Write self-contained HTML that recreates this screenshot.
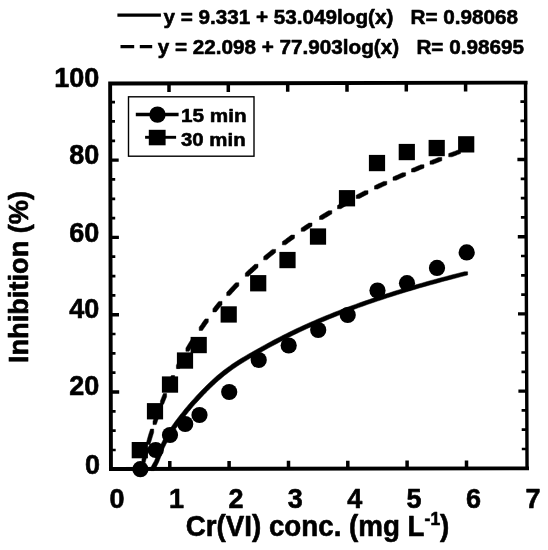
<!DOCTYPE html>
<html lang="en"><head><meta charset="utf-8"><title>Inhibition vs Cr(VI) conc.</title>
<style>html,body{margin:0;padding:0;background:#fff}svg{display:block}text{font-family:"Liberation Sans",Arial,Helvetica,sans-serif;font-weight:bold;fill:#000;stroke:#000;stroke-width:0.6px;stroke-linejoin:round}</style>
</head><body>
<svg width="548" height="550" viewBox="0 0 548 550">
<rect width="548" height="550" fill="#fff"/>
<g stroke="#000" fill="none">
<path d="M110.95 469.05 L110.15 83.5 L525.55 82.6 M110.95 469.05 L527.05 468.35" stroke-width="3.9" stroke-linecap="square" stroke-linejoin="miter"/>
<path d="M525.55 82.6 L527.05 468.35" stroke-width="3.4" stroke-linecap="square"/>
<path d="M169.8 468.9 V460.9 M169.0 83.4 V92.1 M229.1 468.9 V460.9 M228.3 83.2 V91.9 M288.5 468.8 V460.8 M287.7 83.1 V91.8 M347.8 468.7 V460.7 M347.0 83.0 V91.7 M407.1 468.6 V460.6 M406.3 82.9 V91.6 M466.5 468.5 V460.5 M465.6 82.7 V91.4" stroke-width="3.5"/>
<path d="M110.8 392.0 H119.2 M526.8 391.1 H518.4 M110.6 314.7 H119.0 M526.4 313.9 H518.0 M110.5 237.4 H118.9 M526.1 236.7 H517.8 M110.3 160.1 H118.7 M525.8 159.5 H517.4" stroke-width="3.4"/>
<path d="M110.9 450.0 H115.7 M527.0 449.0 H521.8 M110.9 430.6 H115.7 M526.9 429.7 H521.7 M110.8 411.3 H115.6 M526.8 410.4 H521.6 M110.8 372.7 H115.5 M526.7 371.8 H521.5 M110.7 353.4 H115.5 M526.6 352.5 H521.4 M110.7 334.0 H115.5 M526.5 333.2 H521.3 M110.6 295.4 H115.4 M526.4 294.6 H521.2 M110.6 276.1 H115.4 M526.3 275.3 H521.1 M110.5 256.7 H115.3 M526.2 256.0 H521.0 M110.4 218.1 H115.2 M526.1 217.4 H520.9 M110.4 198.8 H115.2 M526.0 198.1 H520.8 M110.4 179.4 H115.2 M525.9 178.8 H520.7 M110.3 140.8 H115.1 M525.8 140.2 H520.6 M110.2 121.4 H115.0 M525.7 120.9 H520.5 M110.2 102.1 H115.0 M525.6 101.6 H520.4" stroke-width="2.7"/>
</g>
<path d="M150.8 467.4 L151.8 465.7 L152.7 464.1 L153.6 462.5 L154.5 460.9 L155.2 459.2 L155.9 457.6 L156.6 456.0 L157.2 454.3 L157.8 452.7 L158.4 451.1 L159.0 449.4 L159.6 447.8 L160.3 446.2 L161.0 444.5 L161.7 442.9 L162.5 441.3 L163.4 439.6 L164.3 438.0 L165.2 436.4 L166.2 434.7 L167.2 433.1 L168.3 431.5 L169.4 429.8 L170.5 428.2 L171.6 426.6 L172.7 424.9 L173.9 423.3 L175.1 421.6 L176.3 420.0 L177.6 418.3 L178.8 416.7 L180.1 415.0 L181.4 413.4 L182.8 411.7 L184.1 410.0 L185.5 408.3 L186.9 406.7 L188.3 405.0 L189.8 403.3 L191.3 401.6 L192.8 399.9 L194.4 398.2 L195.9 396.4 L197.5 394.7 L199.2 393.0 L200.8 391.2 L202.5 389.5 L204.3 387.8 L206.0 386.0 L207.8 384.3 L209.6 382.5 L211.5 380.8 L213.4 379.0 L215.3 377.3 L217.2 375.6 L219.2 373.9 L221.3 372.3 L223.3 370.6 L225.5 369.0 L227.6 367.4 L229.8 365.9 L232.0 364.3 L234.3 362.8 L236.6 361.3 L239.0 359.8 L241.4 358.3 L243.8 356.9 L246.3 355.4 L248.8 353.9 L251.4 352.5 L254.0 351.0 L256.7 349.5 L259.4 348.0 L262.2 346.4 L265.0 344.9 L267.9 343.3 L270.8 341.7 L273.8 340.1 L276.9 338.5 L280.0 336.9 L283.1 335.3 L286.3 333.7 L289.6 332.1 L292.9 330.4 L296.3 328.8 L299.8 327.2 L303.3 325.6 L306.9 323.9 L310.6 322.3 L314.3 320.7 L318.1 319.0 L321.9 317.4 L325.9 315.8 L329.9 314.2 L333.9 312.5 L338.1 310.9 L342.3 309.3 L346.6 307.6 L351.0 306.0 L355.5 304.4 L360.0 302.7 L364.7 301.1 L369.4 299.5 L374.2 297.8 L379.1 296.2 L384.1 294.6 L389.2 293.0 L394.3 291.3 L399.6 289.7 L405.0 288.1 L410.4 286.4 L416.0 284.8 L421.7 283.2 L427.4 281.5 L433.3 279.9 L439.3 278.3 L445.4 276.7 L451.6 275.0 L457.9 273.4 L464.4 271.8 L467.6 271.8 L467.6 275.0 L461.2 276.6 L454.9 278.3 L448.6 279.9 L442.5 281.5 L436.6 283.2 L430.7 284.8 L424.9 286.4 L419.2 288.0 L413.7 289.7 L408.2 291.3 L402.8 292.9 L397.6 294.6 L392.4 296.2 L387.3 297.8 L382.3 299.5 L377.4 301.1 L372.6 302.7 L367.9 304.3 L363.3 306.0 L358.7 307.6 L354.3 309.2 L349.9 310.9 L345.6 312.5 L341.3 314.1 L337.2 315.8 L333.1 317.4 L329.1 319.0 L325.2 320.7 L321.3 322.3 L317.5 323.9 L313.8 325.5 L310.1 327.2 L306.6 328.8 L303.0 330.4 L299.6 332.1 L296.2 333.7 L292.9 335.3 L289.6 336.9 L286.4 338.6 L283.2 340.2 L280.1 341.8 L277.1 343.4 L274.1 345.0 L271.1 346.6 L268.3 348.1 L265.4 349.7 L262.7 351.2 L259.9 352.7 L257.3 354.2 L254.6 355.7 L252.1 357.2 L249.5 358.6 L247.0 360.1 L244.6 361.6 L242.2 363.0 L239.8 364.5 L237.5 366.0 L235.3 367.6 L233.0 369.1 L230.8 370.7 L228.7 372.3 L226.6 373.9 L224.5 375.5 L222.5 377.2 L220.5 378.9 L218.5 380.6 L216.6 382.3 L214.7 384.0 L212.9 385.8 L211.0 387.5 L209.2 389.2 L207.5 391.0 L205.8 392.7 L204.1 394.5 L202.4 396.2 L200.8 398.0 L199.2 399.7 L197.6 401.4 L196.1 403.1 L194.5 404.8 L193.0 406.5 L191.6 408.2 L190.2 409.9 L188.7 411.6 L187.4 413.3 L186.0 414.9 L184.7 416.6 L183.4 418.3 L182.1 419.9 L180.8 421.6 L179.6 423.2 L178.3 424.9 L177.1 426.5 L176.0 428.2 L174.8 429.8 L173.7 431.4 L172.6 433.1 L171.5 434.7 L170.5 436.3 L169.5 438.0 L168.5 439.6 L167.5 441.3 L166.6 442.9 L165.8 444.5 L165.0 446.2 L164.2 447.8 L163.5 449.4 L162.9 451.0 L162.2 452.7 L161.6 454.3 L161.1 455.9 L160.5 457.6 L159.8 459.2 L159.2 460.8 L158.5 462.5 L157.7 464.1 L156.9 465.7 L156.0 467.4 L155.1 469.0 L154.1 470.6 L150.8 470.6Z" fill="#000" stroke="#000" stroke-width="0.5" stroke-linejoin="round"/>
<path d="M141.9 459.6 L142.4 457.6 L142.9 455.6 L143.4 453.7 L143.9 451.8 L144.4 450.0 L144.9 448.1 L148.1 448.1 L148.1 451.3 L147.6 453.2 L147.1 455.1 L146.6 457.0 L146.1 458.9 L145.6 460.8 L145.1 462.8 L141.9 462.8Z M146.8 441.3 L147.4 439.2 L148.0 437.1 L148.6 435.0 L149.2 433.0 L149.9 431.0 L150.5 429.1 L153.7 429.1 L153.7 432.3 L153.1 434.3 L152.5 436.3 L151.9 438.3 L151.3 440.3 L150.6 442.4 L150.0 444.6 L146.8 444.6Z M153.0 421.4 L153.5 419.8 L154.0 418.2 L154.6 416.7 L155.1 415.2 L155.6 413.6 L156.2 412.1 L159.4 412.1 L159.4 415.4 L158.9 416.9 L158.4 418.4 L157.8 419.9 L157.3 421.5 L156.8 423.0 L156.2 424.6 L153.0 424.6Z M160.4 401.0 L160.9 399.7 L161.4 398.4 L161.9 397.2 L162.4 395.9 L162.9 394.7 L163.4 393.5 L166.6 393.5 L166.6 396.7 L166.1 398.0 L165.6 399.2 L165.1 400.4 L164.6 401.7 L164.1 402.9 L163.6 404.2 L160.4 404.2Z M167.9 383.1 L168.5 381.8 L169.0 380.5 L169.6 379.2 L170.2 378.0 L170.8 376.7 L171.4 375.5 L174.6 375.5 L174.6 378.7 L174.0 380.0 L173.5 381.2 L172.9 382.5 L172.3 383.7 L171.7 385.0 L171.1 386.3 L167.9 386.3Z M176.4 365.4 L177.0 364.1 L177.7 362.8 L178.4 361.6 L179.0 360.3 L179.7 359.1 L180.4 357.8 L183.6 357.8 L183.6 361.1 L183.0 362.3 L182.3 363.5 L181.6 364.8 L181.0 366.1 L180.3 367.3 L179.6 368.6 L176.4 368.6Z M185.9 348.1 L186.8 346.6 L187.7 345.0 L188.6 343.5 L189.5 342.0 L190.5 340.5 L191.4 339.1 L194.6 339.1 L194.6 342.3 L193.7 343.8 L192.8 345.2 L191.9 346.7 L191.0 348.3 L190.0 349.8 L189.1 351.3 L185.9 351.3Z M199.2 327.2 L200.2 325.8 L201.2 324.4 L202.1 323.0 L203.1 321.6 L204.1 320.2 L205.1 318.9 L208.3 318.9 L208.3 322.1 L207.3 323.5 L206.3 324.8 L205.4 326.2 L204.4 327.6 L203.4 329.0 L202.4 330.4 L199.2 330.4Z M212.9 308.7 L213.9 307.4 L214.8 306.2 L215.8 305.0 L216.8 303.8 L217.8 302.6 L218.8 301.4 L222.0 301.4 L222.0 304.7 L221.0 305.9 L220.0 307.0 L219.1 308.2 L218.1 309.4 L217.1 310.7 L216.1 311.9 L212.9 311.9Z M226.7 292.3 L228.2 290.7 L229.7 289.1 L231.1 287.5 L232.6 285.9 L234.1 284.3 L235.6 282.8 L238.8 282.8 L238.8 286.0 L237.3 287.6 L235.8 289.1 L234.4 290.7 L232.9 292.3 L231.4 293.9 L229.9 295.6 L226.7 295.6Z M245.3 273.1 L246.9 271.6 L248.5 270.1 L250.0 268.6 L251.6 267.2 L253.2 265.7 L254.8 264.3 L258.0 264.3 L258.0 267.5 L256.4 269.0 L254.8 270.4 L253.3 271.9 L251.7 273.3 L250.1 274.8 L248.5 276.3 L245.3 276.3Z M263.7 256.5 L265.1 255.3 L266.6 254.1 L268.0 252.9 L269.5 251.7 L270.9 250.5 L272.4 249.4 L275.6 249.4 L275.6 252.6 L274.2 253.8 L272.7 255.0 L271.3 256.1 L269.8 257.3 L268.4 258.5 L266.9 259.8 L263.7 259.8Z M282.4 241.6 L283.9 240.5 L285.4 239.4 L286.8 238.3 L288.3 237.2 L289.8 236.1 L291.3 235.1 L294.5 235.1 L294.5 238.3 L293.0 239.4 L291.5 240.4 L290.1 241.5 L288.6 242.6 L287.1 243.7 L285.6 244.8 L282.4 244.8Z M301.2 228.1 L302.5 227.2 L303.7 226.4 L305.0 225.6 L306.2 224.7 L307.5 223.9 L308.8 223.1 L312.0 223.1 L312.0 226.3 L310.7 227.1 L309.5 228.0 L308.2 228.8 L307.0 229.6 L305.7 230.5 L304.4 231.3 L301.2 231.3Z M319.5 216.2 L321.0 215.3 L322.5 214.3 L324.0 213.4 L325.5 212.5 L327.1 211.6 L328.6 210.7 L331.8 210.7 L331.8 213.9 L330.3 214.8 L328.8 215.7 L327.3 216.7 L325.8 217.6 L324.2 218.5 L322.7 219.4 L319.5 219.4Z M337.5 205.5 L339.0 204.6 L340.4 203.8 L341.9 203.0 L343.3 202.2 L344.8 201.3 L346.3 200.5 L349.5 200.5 L349.5 203.8 L348.0 204.6 L346.6 205.4 L345.1 206.2 L343.7 207.0 L342.2 207.9 L340.7 208.7 L337.5 208.7Z M356.2 195.2 L357.6 194.4 L359.1 193.7 L360.5 192.9 L361.9 192.2 L363.3 191.4 L364.8 190.7 L368.0 190.7 L368.0 194.0 L366.6 194.7 L365.1 195.4 L363.7 196.2 L362.3 196.9 L360.9 197.7 L359.4 198.4 L356.2 198.4Z M374.5 185.8 L376.0 185.1 L377.5 184.3 L379.0 183.6 L380.5 182.9 L382.1 182.2 L383.6 181.4 L386.8 181.4 L386.8 184.7 L385.3 185.4 L383.8 186.1 L382.3 186.8 L380.8 187.6 L379.2 188.3 L377.7 189.1 L374.5 189.1Z M393.0 177.0 L394.6 176.3 L396.1 175.6 L397.7 174.9 L399.2 174.2 L400.8 173.5 L402.4 172.8 L405.6 172.8 L405.6 176.0 L404.0 176.7 L402.5 177.4 L400.9 178.1 L399.4 178.8 L397.8 179.5 L396.2 180.2 L393.0 180.2Z M411.5 168.8 L413.0 168.1 L414.6 167.4 L416.1 166.8 L417.7 166.1 L419.2 165.5 L420.8 164.8 L424.0 164.8 L424.0 168.0 L422.5 168.7 L420.9 169.3 L419.4 170.0 L417.8 170.7 L416.3 171.3 L414.7 172.0 L411.5 172.0Z M430.0 161.0 L431.4 160.4 L432.9 159.8 L434.3 159.3 L435.7 158.7 L437.1 158.1 L438.6 157.5 L441.8 157.5 L441.8 160.8 L440.4 161.3 L438.9 161.9 L437.5 162.5 L436.1 163.1 L434.7 163.6 L433.2 164.2 L430.0 164.2Z M448.7 153.6 L450.1 153.0 L451.6 152.5 L453.0 151.9 L454.4 151.4 L455.8 150.9 L457.3 150.3 L460.5 150.3 L460.5 153.6 L459.1 154.1 L457.6 154.6 L456.2 155.2 L454.8 155.7 L453.4 156.3 L451.9 156.8 L448.7 156.8Z" fill="#000" stroke="#000" stroke-width="0.5" stroke-linejoin="round"/>
<g fill="#000">
<rect x="131.7" y="442.0" width="16.2" height="16.3"/>
<rect x="146.9" y="403.1" width="16.2" height="16.3"/>
<rect x="161.9" y="376.4" width="16.2" height="16.3"/>
<rect x="176.9" y="352.4" width="16.2" height="16.3"/>
<rect x="190.6" y="336.9" width="16.2" height="16.3"/>
<rect x="220.6" y="306.3" width="16.2" height="16.3"/>
<rect x="250.1" y="275.1" width="16.2" height="16.3"/>
<rect x="279.4" y="251.9" width="16.2" height="16.3"/>
<rect x="309.9" y="228.4" width="16.2" height="16.3"/>
<rect x="338.9" y="190.1" width="16.2" height="16.3"/>
<rect x="368.9" y="154.9" width="16.2" height="16.3"/>
<rect x="398.7" y="143.9" width="16.2" height="16.3"/>
<rect x="428.6" y="139.9" width="16.2" height="16.3"/>
<rect x="458.1" y="136.2" width="16.2" height="16.3"/>
<circle cx="140.4" cy="469.2" r="8.1"/>
<circle cx="155.7" cy="450" r="8.1"/>
<circle cx="170" cy="435" r="8.1"/>
<circle cx="185.2" cy="424" r="8.1"/>
<circle cx="199.5" cy="415" r="8.1"/>
<circle cx="229.2" cy="392" r="8.1"/>
<circle cx="258.7" cy="360" r="8.1"/>
<circle cx="288.7" cy="345.5" r="8.1"/>
<circle cx="318.2" cy="330" r="8.1"/>
<circle cx="347.7" cy="315" r="8.1"/>
<circle cx="377.5" cy="290.5" r="8.1"/>
<circle cx="407" cy="283.2" r="8.1"/>
<circle cx="437" cy="267.9" r="8.1"/>
<circle cx="466.7" cy="252.4" r="8.1"/>
</g>
<rect x="128.5" y="96.8" width="125.5" height="59.4" fill="#fff" stroke="#000" stroke-width="1.4"/>
<path d="M135.8 114.5 H178.6" stroke="#000" stroke-width="3.5" fill="none"/>
<path d="M145.1 137.3 H176.1" stroke="#000" stroke-width="2.9" fill="none"/>
<circle cx="157.5" cy="114.6" r="8.2" fill="#000"/>
<rect x="148.8" y="129.8" width="16.8" height="15.5" fill="#000"/>
<text transform="translate(181 122.3) scale(1 0.96)" font-size="20" textLength="65.6" lengthAdjust="spacingAndGlyphs">15 min</text>
<text transform="translate(181 146.1) scale(1 0.96)" font-size="20" textLength="64.6" lengthAdjust="spacingAndGlyphs">30 min</text>
<path d="M117.4 15.1 H160.9" stroke="#000" stroke-width="3.3" fill="none"/>
<path d="M120.5 46.6 H134.2 M139.8 46.6 H152.2" stroke="#000" stroke-width="3.3" fill="none"/>
<text transform="translate(163.4 23.6) scale(1 0.95)" font-size="20.7" xml:space="preserve">y = 9.331 + 53.049log(x)   R= 0.98068</text>
<text transform="translate(157.7 54.3) scale(1 0.95)" font-size="20.7" xml:space="preserve">y = 22.098 + 77.903log(x)   R= 0.98695</text>
<text transform="translate(99.3 86.8) scale(1 1.03)" font-size="27" text-anchor="end">100</text>
<text transform="translate(99.3 164.4) scale(1 1.03)" font-size="27" text-anchor="end">80</text>
<text transform="translate(99.3 242) scale(1 1.03)" font-size="27" text-anchor="end">60</text>
<text transform="translate(99.3 318.2) scale(1 1.03)" font-size="27" text-anchor="end">40</text>
<text transform="translate(99.3 395) scale(1 1.03)" font-size="27" text-anchor="end">20</text>
<text transform="translate(100.0 473.9) scale(1 1.03)" font-size="27" text-anchor="end">0</text>
<text transform="translate(117.1 507.6) scale(1 1.03)" font-size="27" text-anchor="middle">0</text>
<text transform="translate(176.5 507.6) scale(1 1.03)" font-size="27" text-anchor="middle">1</text>
<text transform="translate(235.9 507.6) scale(1 1.03)" font-size="27" text-anchor="middle">2</text>
<text transform="translate(295.3 507.6) scale(1 1.03)" font-size="27" text-anchor="middle">3</text>
<text transform="translate(354.7 507.6) scale(1 1.03)" font-size="27" text-anchor="middle">4</text>
<text transform="translate(414.1 507.6) scale(1 1.03)" font-size="27" text-anchor="middle">5</text>
<text transform="translate(473.5 507.6) scale(1 1.03)" font-size="27" text-anchor="middle">6</text>
<text transform="translate(532.9 507.6) scale(1 1.03)" font-size="27" text-anchor="middle">7</text>
<text transform="translate(185.7 535.6) scale(1 1.04)" font-size="27.75">Cr(VI) conc. (mg L<tspan font-size="17.5" dy="-10.6">-1</tspan><tspan dy="10.6">)</tspan></text>
<text transform="translate(28 277) rotate(-90) scale(1 1.03)" font-size="27.2" text-anchor="middle">Inhibition (%)</text>
</svg>
</body></html>
